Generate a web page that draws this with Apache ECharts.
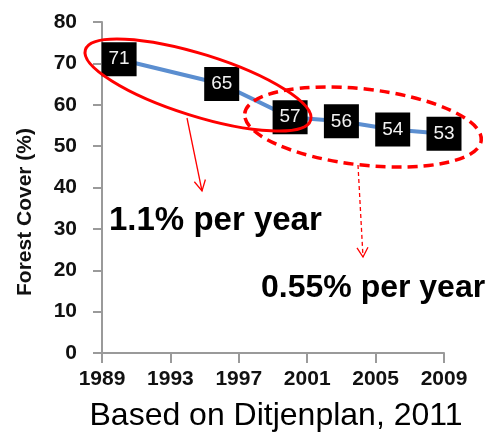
<!DOCTYPE html>
<html>
<head>
<meta charset="utf-8">
<script src="https://cdn.jsdelivr.net/npm/echarts@6/dist/echarts.min.js"></script>
<style>
html,body{margin:0;padding:0;background:#fff;}
#chart{width:495px;height:439px;}
</style>
</head>
<body>
<div id="chart"></div>
<script>
// ---- data ----
var years = [1990, 1996, 2000, 2003, 2006, 2009];
var forestCover = [71, 65, 57, 56, 54, 53];
var xTickStart = 1989;      // first x tick label
var xTickStep = 4;          // years between x tick labels
var xTickEnd = 2009;
var yTicks = [0, 10, 20, 30, 40, 50, 60, 70, 80];
var yAxisTitle = 'Forest Cover (%)';
var note1 = '1.1% per year';
var note2 = '0.55% per year';
var sourceText = 'Based on Ditjenplan, 2011';

var FONT = '"Liberation Sans", Arial, sans-serif';
var chart = echarts.init(document.getElementById('chart'), null, {renderer: 'canvas'});

var seriesData = years.map(function (y, i) { return [y - xTickStart, forestCover[i]]; });

function arrowHead(tip, from, len, halfAngle) {
  var dx = from[0] - tip[0], dy = from[1] - tip[1];
  var d = Math.sqrt(dx * dx + dy * dy); dx /= d; dy /= d;
  function rot(a) {
    var c = Math.cos(a), s = Math.sin(a);
    return [tip[0] + len * (dx * c - dy * s), tip[1] + len * (dx * s + dy * c)];
  }
  return [rot(halfAngle), tip, rot(-halfAngle)];
}

var a1from = [187, 118], a1tip = [202, 191];
var a2from = [358, 165], a2tip = [363, 257];

var option = {
  animation: false,
  backgroundColor: '#fff',
  grid: {left: 102, right: 51, top: 22, bottom: 86, containLabel: false, outerBoundsMode: 'none'},
  xAxis: {
    type: 'value',
    min: 0,
    max: xTickEnd - xTickStart,
    interval: xTickStep,
    axisLine: {show: true, lineStyle: {color: '#9a9a9a', width: 2}},
    axisTick: {show: true, length: 10, lineStyle: {color: '#9a9a9a', width: 2}},
    splitLine: {show: false},
    axisLabel: {
      margin: 16,
      fontFamily: FONT, fontWeight: 'bold', fontSize: 21, color: '#111',
      formatter: function (v) { return String(v + xTickStart); }
    }
  },
  yAxis: {
    type: 'value',
    min: yTicks[0],
    max: yTicks[yTicks.length - 1],
    interval: yTicks[1] - yTicks[0],
    axisLine: {show: true, lineStyle: {color: '#9a9a9a', width: 2}},
    axisTick: {show: true, length: 9, lineStyle: {color: '#9a9a9a', width: 2}},
    splitLine: {show: false},
    axisLabel: {margin: 25, fontFamily: FONT, fontWeight: 'bold', fontSize: 21, color: '#111'}
  },
  series: [{
    type: 'line',
    data: seriesData,
    symbol: 'rect',
    symbolSize: [35, 34],
    itemStyle: {color: '#000'},
    lineStyle: {color: '#5b8ed0', width: 4},
    label: {
      show: true,
      position: 'inside',
      color: '#f2f2f2',
      fontFamily: FONT,
      fontSize: 19
    },
    z: 2
  }],
  graphic: [
    {type: 'ellipse', x: 198, y: 85, rotation: -17.4 * Math.PI / 180, z: 100,
     shape: {cx: 0, cy: 0, rx: 118, ry: 31},
     style: {fill: 'none', stroke: '#ff0000', lineWidth: 3}},
    {type: 'ellipse', x: 363, y: 127, rotation: -6.5 * Math.PI / 180, z: 100,
     shape: {cx: 0, cy: 0, rx: 119, ry: 38},
     style: {fill: 'none', stroke: '#ff0000', lineWidth: 3.5, lineDash: [10, 6]}},
    {type: 'line', z: 100, shape: {x1: a1from[0], y1: a1from[1], x2: a1tip[0], y2: a1tip[1]},
     style: {stroke: '#ff0000', lineWidth: 1.3}},
    {type: 'polyline', z: 100, shape: {points: arrowHead(a1tip, a1from, 12, 28 * Math.PI / 180)},
     style: {stroke: '#ff0000', lineWidth: 1.3, fill: 'none'}},
    {type: 'line', z: 100, shape: {x1: a2from[0], y1: a2from[1], x2: a2tip[0], y2: a2tip[1]},
     style: {stroke: '#ff0000', lineWidth: 1.3, lineDash: [4, 3]}},
    {type: 'polyline', z: 100, shape: {points: arrowHead(a2tip, a2from, 11, 30 * Math.PI / 180)},
     style: {stroke: '#ff0000', lineWidth: 1.3, fill: 'none'}},
    {type: 'text', x: 109, y: 221, z: 100,
     style: {text: note1, font: 'bold 33px ' + FONT, fill: '#000', align: 'left', verticalAlign: 'middle'}},
    {type: 'text', x: 261, y: 288, z: 100,
     style: {text: note2, font: 'bold 32px ' + FONT, fill: '#000', align: 'left', verticalAlign: 'middle'}},
    {type: 'text', x: 25, y: 212, rotation: Math.PI / 2, z: 100,
     style: {text: yAxisTitle, font: 'bold 21px ' + FONT, fill: '#111', align: 'center', verticalAlign: 'middle'}},
    {type: 'text', x: 276, y: 416, z: 100,
     style: {text: sourceText, font: '32px ' + FONT, fill: '#000', align: 'center', verticalAlign: 'middle'}}
  ]
};
chart.setOption(option);
</script>
</body>
</html>
